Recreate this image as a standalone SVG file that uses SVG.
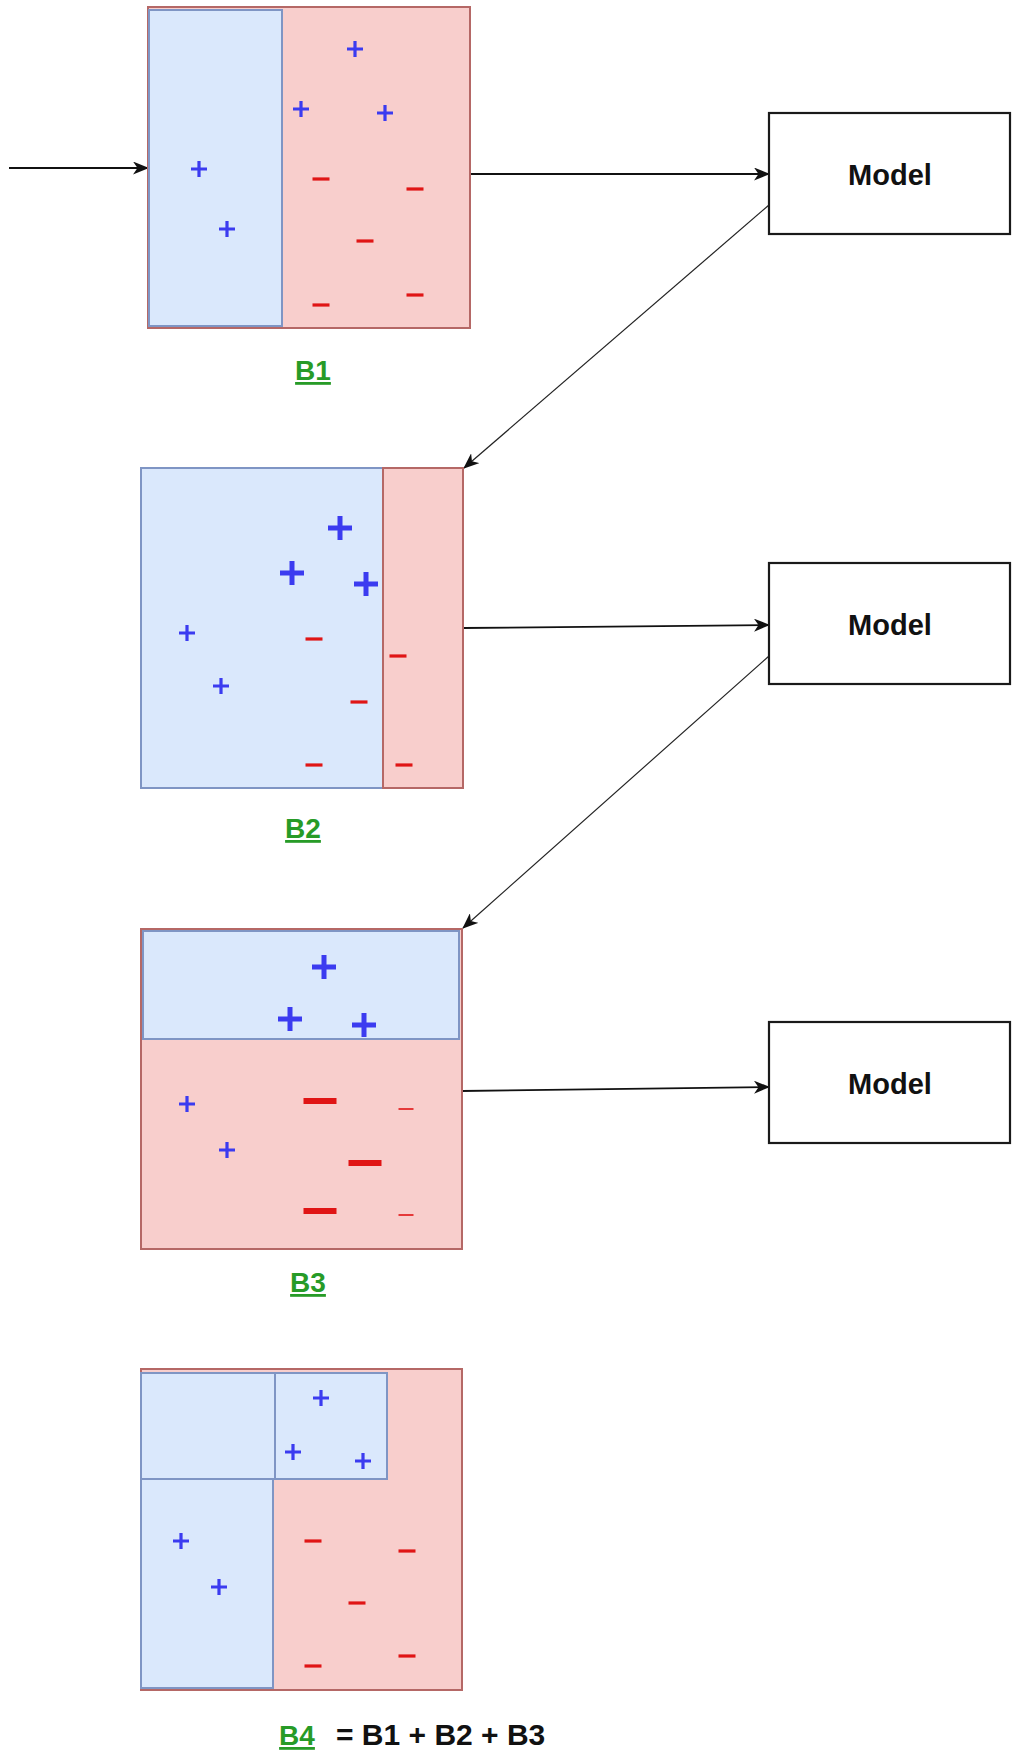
<svg xmlns="http://www.w3.org/2000/svg" xmlns:xlink="http://www.w3.org/1999/xlink" width="1016" height="1753" viewBox="0 0 1016 1753">
  <style>
    .blue { fill: #dae8fc; stroke: #7f95c4; stroke-width: 2; }
    .pink { fill: #f8cecc; stroke: #b56866; stroke-width: 2; }
    .model { fill: #ffffff; stroke: #1a1a1a; stroke-width: 2.2; }
    .model-text { font-family: "Liberation Sans", Arial, sans-serif; font-weight: bold; font-size: 29px; fill: #111; text-anchor: middle; }
    .label { font-family: "Liberation Sans", Arial, sans-serif; font-weight: bold; font-size: 28px; fill: #279b27; text-anchor: middle; text-decoration: underline; }
    .formula { font-family: "Liberation Sans", Arial, sans-serif; font-weight: bold; font-size: 30px; fill: #111; }
    .link { fill: none; stroke: #111; stroke-width: 1.8; }
    .link-thin { fill: none; stroke: #222; stroke-width: 1.2; }
  </style>
  <defs>
    <marker id="arrow" viewBox="0 0 16 13" refX="15" refY="6.5" markerWidth="16" markerHeight="13" markerUnits="userSpaceOnUse" orient="auto">
      <path d="M0,0 L16,6.5 L0,13 L4.5,6.5 Z" fill="#111"/>
    </marker>
    <!-- small and large plus / minus glyphs -->
    <path id="plus-s" d="M-8,0 H8 M0,-8 V8" stroke="#3b3bf0" stroke-width="3.2" fill="none"/>
    <path id="plus-l" d="M-12,0 H12 M0,-12 V12" stroke="#3b3bf0" stroke-width="5" fill="none"/>
    <path id="minus-s" d="M-8.5,0 H8.5" stroke="#e01515" stroke-width="3.2" fill="none"/>
    <path id="minus-l" d="M-16.5,0 H16.5" stroke="#e01515" stroke-width="6" fill="none"/>
    <path id="minus-t" d="M-7.5,0 H7.5" stroke="#e01515" stroke-width="1.6" fill="none"/>
  </defs>

  <rect width="1016" height="1753" fill="#ffffff"/>

  <!-- connectors -->
  <g id="connectors">
    <line class="link" x1="9" y1="168" x2="148" y2="168" marker-end="url(#arrow)"/>
    <line class="link" x1="470" y1="174" x2="769" y2="174" marker-end="url(#arrow)"/>
    <line class="link-thin" x1="769" y1="205" x2="464" y2="468" marker-end="url(#arrow)"/>
    <line class="link" x1="463" y1="628" x2="769" y2="625" marker-end="url(#arrow)"/>
    <line class="link-thin" x1="769" y1="656" x2="463" y2="928" marker-end="url(#arrow)"/>
    <line class="link" x1="462" y1="1091" x2="769" y2="1087" marker-end="url(#arrow)"/>
  </g>

  <!-- B1 -->
  <g id="b1">
    <rect class="pink" x="148" y="7" width="322" height="321"/>
    <rect class="blue" x="149" y="10" width="133" height="316"/>
    <use xlink:href="#plus-s" x="355" y="49"/>
    <use xlink:href="#plus-s" x="301" y="109"/>
    <use xlink:href="#plus-s" x="385" y="113"/>
    <use xlink:href="#plus-s" x="199" y="169"/>
    <use xlink:href="#plus-s" x="227" y="229"/>
    <use xlink:href="#minus-s" x="321" y="179"/>
    <use xlink:href="#minus-s" x="415" y="189"/>
    <use xlink:href="#minus-s" x="365" y="241"/>
    <use xlink:href="#minus-s" x="321" y="305"/>
    <use xlink:href="#minus-s" x="415" y="295"/>
    <text class="label" x="313" y="380">B1</text>
  </g>

  <!-- B2 -->
  <g id="b2">
    <rect class="blue" x="141" y="468" width="242" height="320"/>
    <rect class="pink" x="383" y="468" width="80" height="320"/>
    <use xlink:href="#plus-l" x="340" y="528"/>
    <use xlink:href="#plus-l" x="292" y="573"/>
    <use xlink:href="#plus-l" x="366" y="584"/>
    <use xlink:href="#plus-s" x="187" y="633"/>
    <use xlink:href="#plus-s" x="221" y="686"/>
    <use xlink:href="#minus-s" x="314" y="639"/>
    <use xlink:href="#minus-s" x="398" y="656"/>
    <use xlink:href="#minus-s" x="359" y="702"/>
    <use xlink:href="#minus-s" x="314" y="765"/>
    <use xlink:href="#minus-s" x="404" y="765"/>
    <text class="label" x="303" y="838">B2</text>
  </g>

  <!-- B3 -->
  <g id="b3">
    <rect class="pink" x="141" y="929" width="321" height="320"/>
    <rect class="blue" x="143" y="931" width="316" height="108"/>
    <use xlink:href="#plus-l" x="324" y="967"/>
    <use xlink:href="#plus-l" x="290" y="1019"/>
    <use xlink:href="#plus-l" x="364" y="1025"/>
    <use xlink:href="#plus-s" x="187" y="1104"/>
    <use xlink:href="#plus-s" x="227" y="1150"/>
    <use xlink:href="#minus-l" x="320" y="1101"/>
    <use xlink:href="#minus-l" x="365" y="1163"/>
    <use xlink:href="#minus-l" x="320" y="1211"/>
    <use xlink:href="#minus-t" x="406" y="1109"/>
    <use xlink:href="#minus-t" x="406" y="1215"/>
    <text class="label" x="308" y="1292">B3</text>
  </g>

  <!-- B4 -->
  <g id="b4">
    <rect class="pink" x="141" y="1369" width="321" height="321"/>
    <rect class="blue" x="141" y="1373" width="134" height="106"/>
    <rect class="blue" x="275" y="1373" width="112" height="106"/>
    <rect class="blue" x="141" y="1479" width="132" height="209"/>
    <use xlink:href="#plus-s" x="321" y="1398"/>
    <use xlink:href="#plus-s" x="293" y="1452"/>
    <use xlink:href="#plus-s" x="363" y="1461"/>
    <use xlink:href="#plus-s" x="181" y="1541"/>
    <use xlink:href="#plus-s" x="219" y="1587"/>
    <use xlink:href="#minus-s" x="313" y="1541"/>
    <use xlink:href="#minus-s" x="407" y="1551"/>
    <use xlink:href="#minus-s" x="357" y="1603"/>
    <use xlink:href="#minus-s" x="313" y="1666"/>
    <use xlink:href="#minus-s" x="407" y="1656"/>
    <text class="label" x="297" y="1745">B4</text>
    <text class="formula" x="336" y="1745">= B1 + B2 + B3</text>
  </g>

  <!-- models -->
  <g id="model1">
    <rect class="model" x="769" y="113" width="241" height="121"/>
    <text class="model-text" x="890" y="185">Model</text>
  </g>
  <g id="model2">
    <rect class="model" x="769" y="563" width="241" height="121"/>
    <text class="model-text" x="890" y="635">Model</text>
  </g>
  <g id="model3">
    <rect class="model" x="769" y="1022" width="241" height="121"/>
    <text class="model-text" x="890" y="1094">Model</text>
  </g>
</svg>
